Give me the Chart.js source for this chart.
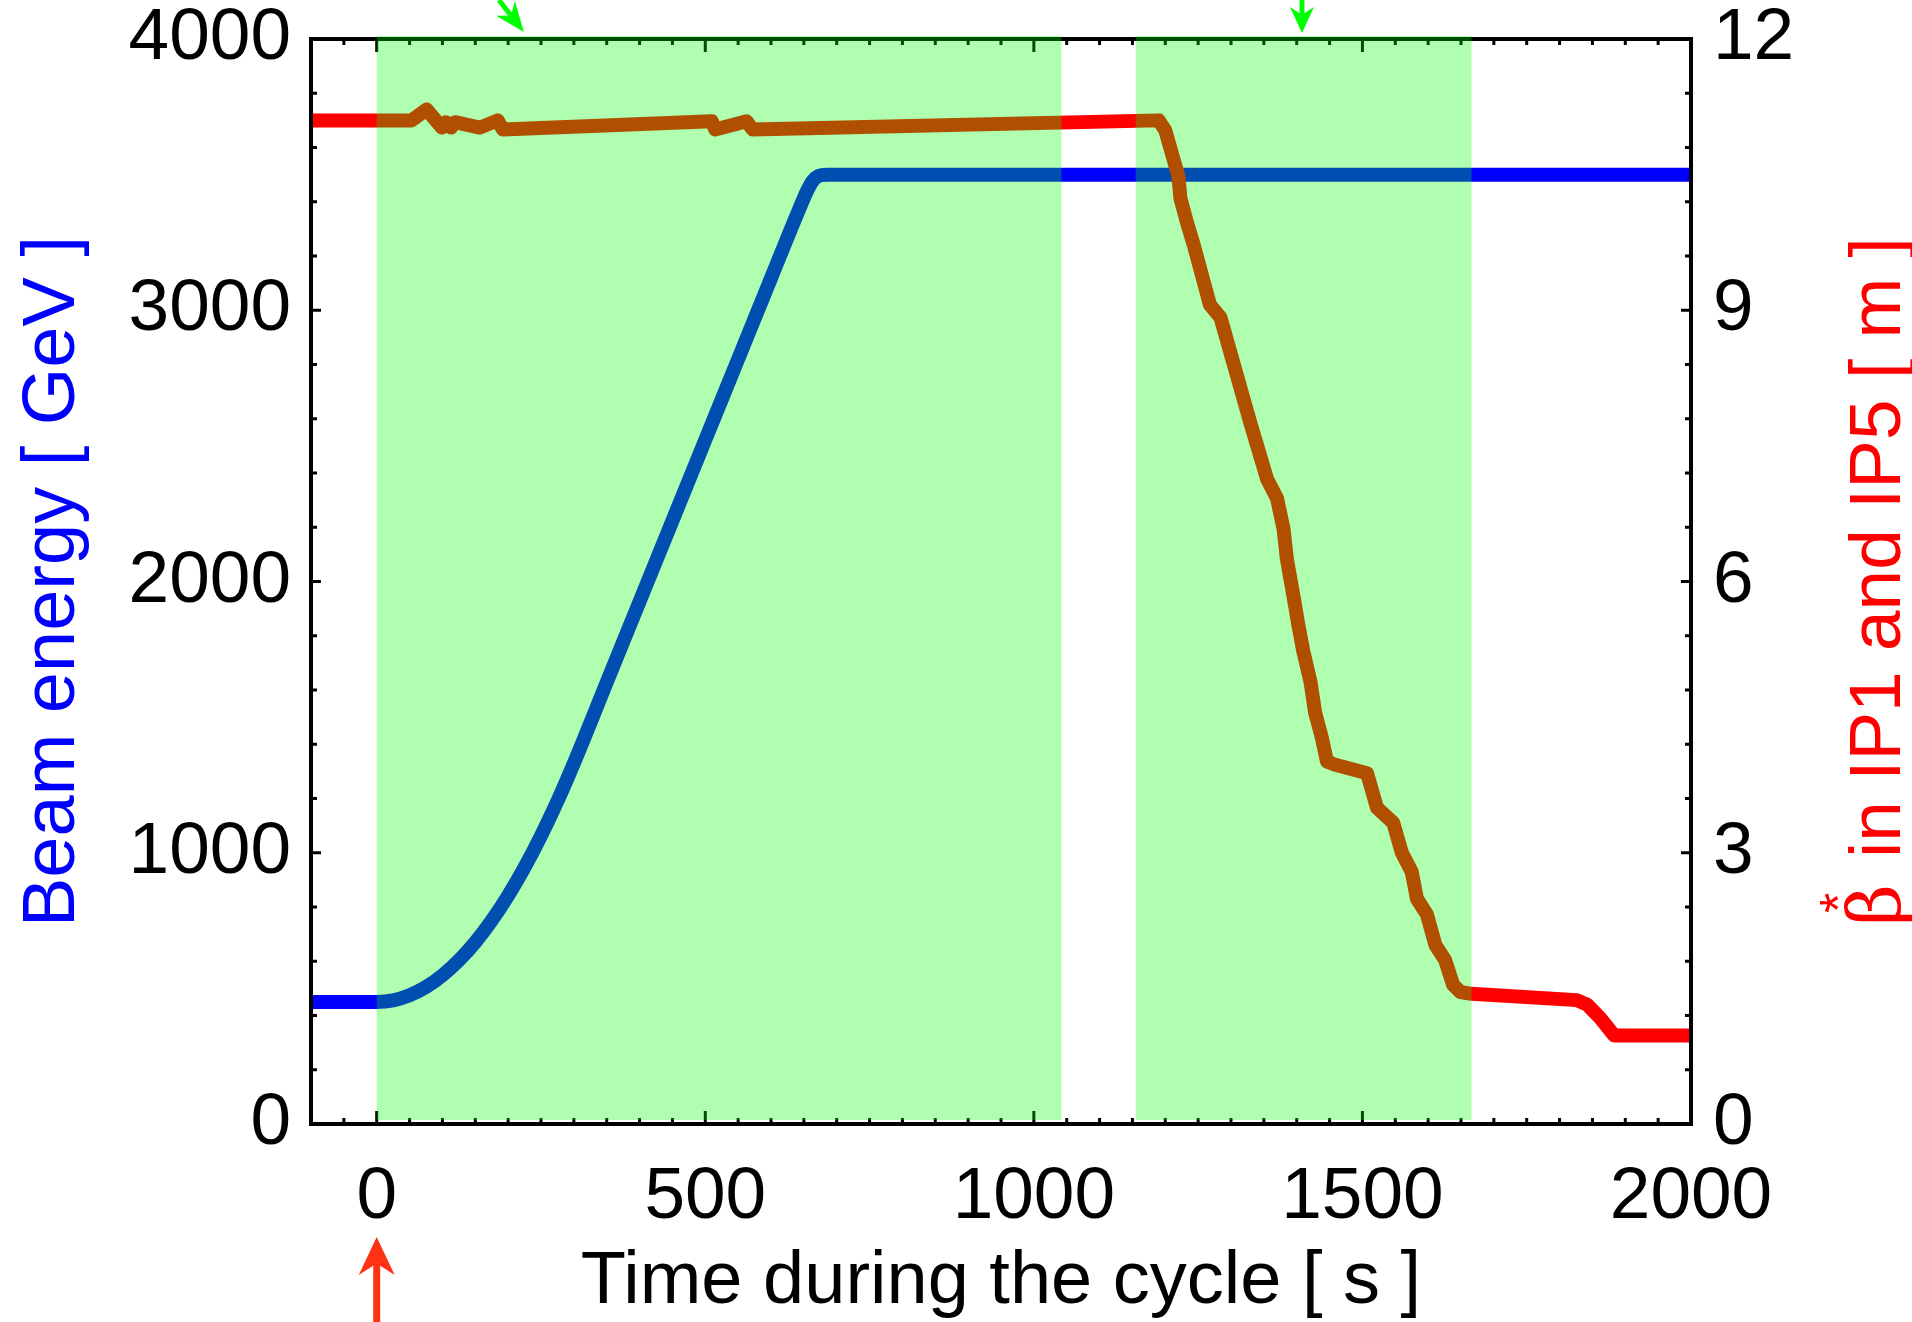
<!DOCTYPE html>
<html>
<head>
<meta charset="utf-8">
<script src="https://cdn.jsdelivr.net/npm/chart.js@4.4.0/dist/chart.umd.min.js"></script>
<style>
  html, body { margin: 0; padding: 0; background: #fff; }
  #wrap { width: 1912px; height: 1322px; position: relative; }
</style>
</head>
<body>
<div id="wrap"><canvas id="chart"></canvas></div>
<script>
// beam energy during the ramp [ GeV ]
var energyTime = [-100, 0, 25, 50, 75, 100, 125, 150, 175, 200, 225, 250, 275, 300, 350, 400, 450, 500, 550, 600, 640, 655, 663, 672, 685, 2000];
var energyGeV = [450, 450, 456, 475, 505, 548, 603, 670, 750, 842, 946, 1062, 1190, 1330, 1628, 1926, 2224, 2522, 2820, 3118, 3356, 3440, 3475, 3495, 3500, 3500];

// beta* in IP1 and IP5 [ m ]
var betaTime = [-100, 0, 53, 76, 99, 105, 113, 119, 157, 184, 192, 510, 515, 563, 572, 1190, 1200, 1220, 1223, 1233, 1243, 1268, 1284, 1330, 1355, 1370, 1380, 1385, 1395, 1403, 1410, 1421, 1428, 1438, 1446, 1456, 1507, 1522, 1547, 1560, 1575, 1583, 1598, 1611, 1626, 1638, 1649, 1666, 1826, 1842, 1862, 1883, 2000];
var betaMetre = [11.10, 11.10, 11.10, 11.22, 11.02, 11.08, 11.02, 11.08, 11.02, 11.10, 11.00, 11.09, 11.00, 11.09, 11.00, 11.10, 10.99, 10.48, 10.24, 9.97, 9.73, 9.06, 8.92, 7.74, 7.13, 6.92, 6.58, 6.25, 5.84, 5.50, 5.23, 4.89, 4.55, 4.28, 4.01, 3.98, 3.88, 3.50, 3.33, 3.00, 2.79, 2.49, 2.32, 1.98, 1.81, 1.54, 1.46, 1.44, 1.37, 1.32, 1.17, 0.98, 0.98];

// shaded phases and marker arrows (time in s)
var bandStart = [0, 1155];
var bandEnd = [1042, 1666];
var greenArrowTime = [224, 1408];
var redArrowTime = [0];

var xTicks = [0, 500, 1000, 1500, 2000];
var energyTicks = [0, 1000, 2000, 3000, 4000];
var betaTicks = [0, 3, 6, 9, 12];

var FONT = '"Liberation Sans", Arial, Helvetica, sans-serif';

function toPoints(xs, ys) {
  return xs.map(function(x, i) {
    return { x: x, y: ys[i] };
  });
}

function fixTicks(values) {
  return function(scale) {
    scale.ticks = values.map(function(v) { return { value: v }; });
  };
}

function arrow(ctx, fromX, fromY, tipX, tipY, headLen, headHalf, shaft, color) {
  var dx = tipX - fromX, dy = tipY - fromY;
  var len = Math.sqrt(dx * dx + dy * dy);
  var ux = dx / len, uy = dy / len;
  var px = -uy, py = ux;
  var bx = tipX - ux * headLen, by = tipY - uy * headLen;
  var nx = tipX - ux * headLen * 0.7, ny = tipY - uy * headLen * 0.7;
  ctx.strokeStyle = color;
  ctx.fillStyle = color;
  ctx.lineWidth = shaft;
  ctx.lineCap = 'butt';
  ctx.beginPath();
  ctx.moveTo(fromX, fromY);
  ctx.lineTo(nx, ny);
  ctx.stroke();
  ctx.beginPath();
  ctx.moveTo(tipX, tipY);
  ctx.lineTo(bx + px * headHalf, by + py * headHalf);
  ctx.lineTo(nx, ny);
  ctx.lineTo(bx - px * headHalf, by - py * headHalf);
  ctx.closePath();
  ctx.fill();
}

var decorPlugin = {
  id: 'decor',
  afterDraw: function(chart) {
    var ctx = chart.ctx;
    var area = chart.chartArea;
    var sx = chart.scales.x, sE = chart.scales.yE;
    ctx.save();

    // inward ticks on all four sides
    ctx.strokeStyle = '#000';
    ctx.lineWidth = 3;
    ctx.beginPath();
    for (var t = -100; t <= 2000; t += 50) {
      var px = sx.getPixelForValue(t);
      var len = (t % 500 === 0) ? 13 : 6;
      ctx.moveTo(px, area.bottom);
      ctx.lineTo(px, area.bottom - len);
      ctx.moveTo(px, area.top);
      ctx.lineTo(px, area.top + len);
    }
    for (var e = 0; e <= 4000; e += 200) {
      var py = sE.getPixelForValue(e);
      var l2 = (e % 1000 === 0) ? 10 : 6;
      ctx.moveTo(area.left, py);
      ctx.lineTo(area.left + l2, py);
      ctx.moveTo(area.right, py);
      ctx.lineTo(area.right - l2, py);
    }
    ctx.stroke();

    // frame
    ctx.lineWidth = 4;
    ctx.strokeRect(area.left, area.top, area.right - area.left, area.bottom - area.top);

    // green phases drawn on top, semi transparent
    ctx.fillStyle = 'rgba(0,255,0,0.31)';
    bandStart.forEach(function(s, i) {
      var x0 = sx.getPixelForValue(s);
      var x1 = sx.getPixelForValue(bandEnd[i]);
      ctx.fillRect(x0, area.top - 3, x1 - x0, area.bottom - area.top - 1);
    });

    // arrows
    greenArrowTime.forEach(function(tm, i) {
      var tx = sx.getPixelForValue(tm);
      if (i === 0) {
        arrow(ctx, tx - 25, 0, tx, area.top - 7, 30, 12, 5, '#00ff00');
      } else {
        arrow(ctx, tx, 0, tx, area.top - 6, 26, 12, 5, '#00ff00');
      }
    });
    redArrowTime.forEach(function(tm) {
      var tx = sx.getPixelForValue(tm);
      arrow(ctx, tx, chart.height, tx, area.bottom + 113, 38, 18, 7, 'rgb(255,50,20)');
    });

    // axis titles
    var cy = (area.top + area.bottom) / 2;
    ctx.fillStyle = '#000';
    ctx.font = '74px ' + FONT;
    ctx.textAlign = 'center';
    ctx.textBaseline = 'alphabetic';
    ctx.fillText('Time during the cycle [ s ]', (area.left + area.right) / 2, 1303);

    ctx.save();
    ctx.translate(74, cy);
    ctx.rotate(-Math.PI / 2);
    ctx.fillStyle = '#0000ff';
    ctx.fillText('Beam energy [ GeV ]', 0, 0);
    ctx.restore();

    ctx.save();
    ctx.translate(1900, cy);
    ctx.rotate(-Math.PI / 2);
    ctx.fillStyle = '#ff0000';
    ctx.textAlign = 'left';
    var rest = ' in IP1 and IP5 [ m ]';
    var betaFont = '72px "DejaVu Serif", serif';
    var mainFont = '73px ' + FONT;
    ctx.font = betaFont;
    var wb = ctx.measureText('\u03b2').width;
    ctx.font = mainFont;
    var wr = ctx.measureText(rest).width;
    var x0 = -(wb + 6 + wr) / 2;
    ctx.font = betaFont;
    ctx.fillText('\u03b2', x0, 0);
    ctx.font = '52px ' + FONT;
    var ws = ctx.measureText('*').width;
    ctx.fillText('*', x0 + wb * 0.55 - ws / 2, -44);
    ctx.font = mainFont;
    ctx.fillText(rest, x0 + wb + 6, 0);
    ctx.restore();

    ctx.restore();
  }
};

var tickFont = { family: FONT, size: 73 };

new Chart(document.getElementById('chart').getContext('2d'), {
  type: 'line',
  data: {
    datasets: [
      {
        label: 'beta*',
        data: toPoints(betaTime, betaMetre),
        yAxisID: 'yB',
        borderColor: '#ff0000',
        borderWidth: 14,
        borderJoinStyle: 'round',
        pointRadius: 0,
        tension: 0,
        order: 0
      },
      {
        label: 'energy',
        data: toPoints(energyTime, energyGeV),
        yAxisID: 'yE',
        borderColor: '#0000ff',
        borderWidth: 14,
        borderJoinStyle: 'round',
        pointRadius: 0,
        cubicInterpolationMode: 'monotone',
        order: 1
      }
    ]
  },
  options: {
    responsive: true,
    maintainAspectRatio: false,
    animation: false,
    layout: { padding: { top: 39 } },
    plugins: { legend: { display: false }, tooltip: { enabled: false } },
    scales: {
      x: {
        type: 'linear',
        min: -100,
        max: 2000,
        afterBuildTicks: fixTicks(xTicks),
        afterFit: function(s) { s.height = 198; s.paddingLeft = 0; s.paddingRight = 0; },
        grid: { display: false, drawTicks: false },
        border: { display: false },
        ticks: {
          font: tickFont, color: '#000', padding: 30, maxRotation: 0, autoSkip: false,
          callback: function(v) { return String(v); }
        }
      },
      yE: {
        type: 'linear',
        position: 'left',
        min: 0,
        max: 4000,
        afterBuildTicks: fixTicks(energyTicks),
        afterFit: function(s) { s.width = 311; s.paddingTop = 0; s.paddingBottom = 0; },
        grid: { display: false, drawTicks: false },
        border: { display: false },
        ticks: {
          font: tickFont, color: '#000', padding: 20,
          callback: function(v) { return String(v); }
        }
      },
      yB: {
        type: 'linear',
        position: 'right',
        min: 0,
        max: 12,
        afterBuildTicks: fixTicks(betaTicks),
        afterFit: function(s) { s.width = 221; s.paddingTop = 0; s.paddingBottom = 0; },
        grid: { display: false, drawTicks: false },
        border: { display: false },
        ticks: {
          font: tickFont, color: '#000', padding: 22,
          callback: function(v) { return String(v); }
        }
      }
    }
  },
  plugins: [decorPlugin]
});
</script>
</body>
</html>
